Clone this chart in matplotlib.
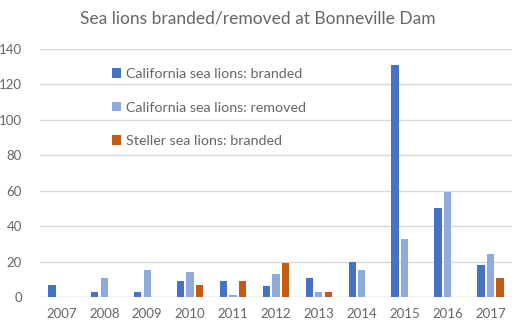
import numpy as np
import matplotlib.pyplot as plt

years = ['2007', '2008', '2009', '2010', '2011', '2012', '2013', '2014', '2015', '2016', '2017']
csl_branded = [7, 3, 3, 9, 9, 6, 11, 20, 131, 50, 18]
csl_removed = [0, 11, 15, 14, 1, 13, 3, 15, 33, 59, 24]
ssl_branded = [0, 0, 0, 7, 9, 19, 3, 0, 0, 0, 11]

plt.rcParams['font.family'] = ['Lato', 'DejaVu Sans']
grey = '#666666'

fig = plt.figure(figsize=(5.16, 3.29), dpi=100)
ax = fig.add_axes([0.0775, 0.0973, 0.9145, 0.7537])

x = np.arange(len(years))
w = 0.17
step = 0.222
ax.bar(x - step, csl_branded, w, color='#4472C4', label='California sea lions: branded', zorder=3)
ax.bar(x, csl_removed, w, color='#8FAADC', label='California sea lions: removed', zorder=3)
ax.bar(x + step, ssl_branded, w, color='#C55A11', label='Steller sea lions: branded', zorder=3)

ax.set_xlim(-0.5, len(years) - 0.5)
ax.set_ylim(0, 140)
ax.set_yticks(range(0, 141, 20))
ax.set_xticks(x)
ax.set_xticklabels(years)
ax.yaxis.grid(True, color='#D9D9D9', linewidth=1, zorder=0)
ax.set_axisbelow(True)
for s in ax.spines.values():
    s.set_visible(False)
ax.axhline(0, color='#D9D9D9', linewidth=1, zorder=2)
ax.tick_params(length=0, labelsize=9.5, labelcolor=grey)
ax.tick_params(axis='y', pad=13)
ax.tick_params(axis='x', pad=8)

ax.legend(loc='upper left', bbox_to_anchor=(0.125, 0.975), frameon=False,
          handlelength=0.65, handleheight=0.65, handletextpad=0.35,
          labelspacing=1.5, fontsize=10.3, labelcolor=grey)

fig.text(0.5, 0.945, 'Sea lions branded/removed at Bonneville Dam',
         ha='center', va='center', fontsize=12.5, color=grey)

fig.savefig('out.png', dpi=100)
